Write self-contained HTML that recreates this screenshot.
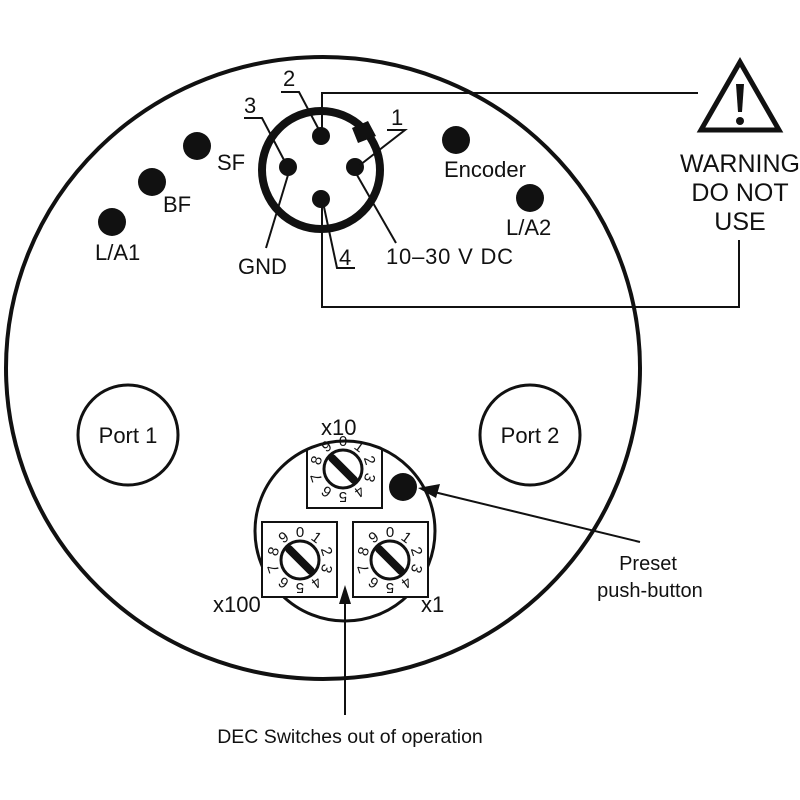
<!DOCTYPE html>
<html><head><meta charset="utf-8"><style>
html,body{margin:0;padding:0;background:#fff;}
svg{display:block;}
text{font-family:"Liberation Sans",sans-serif;fill:#111;}
</style></head><body>
<svg width="800" height="800" viewBox="0 0 800 800" xmlns="http://www.w3.org/2000/svg">
<defs>
<g id="dial">
  <circle cx="0" cy="0" r="19" fill="#fff" stroke="#111" stroke-width="3"/>
  <line x1="-11" y1="-11" x2="11" y2="11" stroke="#111" stroke-width="8" stroke-linecap="round"/>
  <g font-size="15" text-anchor="middle">
    <text transform="rotate(0) translate(0,-23)">0</text>
    <text transform="rotate(36) translate(0,-23)">1</text>
    <text transform="rotate(72) translate(0,-23)">2</text>
    <text transform="rotate(108) translate(0,-23)">3</text>
    <text transform="rotate(144) translate(0,-23)">4</text>
    <text transform="rotate(180) translate(0,-23)">5</text>
    <text transform="rotate(216) translate(0,-23)">6</text>
    <text transform="rotate(252) translate(0,-23)">7</text>
    <text transform="rotate(288) translate(0,-23)">8</text>
    <text transform="rotate(324) translate(0,-23)">9</text>
  </g>
</g>
<clipPath id="sc"><circle cx="345" cy="531" r="90"/></clipPath>
</defs>
<rect width="800" height="800" fill="#fff"/>
<ellipse cx="323" cy="368" rx="317" ry="311" fill="none" stroke="#111" stroke-width="4"/>

<polyline points="322,136 322,93 698,93" fill="none" stroke="#111" stroke-width="2"/>
<polyline points="322,200 322,307 739,307 739,240" fill="none" stroke="#111" stroke-width="2"/>

<polygon points="740,62 701,130 779,130" fill="none" stroke="#111" stroke-width="5"/>
<path d="M736,84 L744,84 L742,112 L738,112 Z" fill="#111"/>
<circle cx="740" cy="121" r="4" fill="#111"/>
<g font-size="25" text-anchor="middle">
<text x="740" y="172">WARNING</text>
<text x="740" y="201">DO NOT</text>
<text x="740" y="230">USE</text>
</g>

<circle cx="112" cy="222" r="14" fill="#111"/>
<circle cx="152" cy="182" r="14" fill="#111"/>
<circle cx="197" cy="146" r="14" fill="#111"/>
<circle cx="456" cy="140" r="14" fill="#111"/>
<circle cx="530" cy="198" r="14" fill="#111"/>
<g font-size="22">
<text x="95" y="260">L/A1</text>
<text x="163" y="212">BF</text>
<text x="217" y="170">SF</text>
<text x="444" y="177">Encoder</text>
<text x="506" y="235">L/A2</text>
<text x="386" y="264" textLength="127">10–30 V DC</text>
<text x="238" y="274">GND</text>
<text x="283" y="86">2</text>
<text x="244" y="113">3</text>
<text x="391" y="125">1</text>
<text x="339" y="265">4</text>
</g>

<circle cx="321" cy="170" r="59" fill="none" stroke="#111" stroke-width="8"/>
<polygon points="352,128 368,121 376,136 358,143" fill="#111"/>
<circle cx="321" cy="136" r="9" fill="#111"/>
<circle cx="288" cy="167" r="9" fill="#111"/>
<circle cx="355" cy="167" r="9" fill="#111"/>
<circle cx="321" cy="199" r="9" fill="#111"/>
<g stroke="#111" stroke-width="2" fill="none">
<polyline points="281,92 299,92 318,128"/>
<polyline points="244,118 262,118 284,160"/>
<polyline points="387,130 405,130 360,165"/>
<polyline points="288,175 266,248"/>
<polyline points="357,175 396,243"/>
<polyline points="324,207 337,268 355,268"/>
</g>

<circle cx="128" cy="435" r="50" fill="none" stroke="#111" stroke-width="3"/>
<circle cx="530" cy="435" r="50" fill="none" stroke="#111" stroke-width="3"/>
<text x="128" y="443" font-size="22" text-anchor="middle">Port 1</text>
<text x="530" y="443" font-size="22" text-anchor="middle">Port 2</text>

<g clip-path="url(#sc)">
<rect x="307" y="420" width="75" height="88" fill="#fff" stroke="#111" stroke-width="2"/>
</g>
<circle cx="345" cy="531" r="90" fill="none" stroke="#111" stroke-width="3"/>
<rect x="262" y="522" width="75" height="75" fill="#fff" stroke="#111" stroke-width="2"/>
<rect x="353" y="522" width="75" height="75" fill="#fff" stroke="#111" stroke-width="2"/>
<use href="#dial" transform="translate(343,469)"/>
<use href="#dial" transform="translate(300,560)"/>
<use href="#dial" transform="translate(390,560)"/>
<circle cx="403" cy="487" r="14" fill="#111"/>
<g font-size="22">
<text x="321" y="435">x10</text>
<text x="213" y="612">x100</text>
<text x="421" y="612">x1</text>
</g>

<line x1="640" y1="542" x2="430" y2="491" stroke="#111" stroke-width="2"/>
<polygon points="418,488 440,484 436,498" fill="#111"/>
<line x1="345" y1="715" x2="345" y2="600" stroke="#111" stroke-width="2"/>
<polygon points="345,585 339,604 351,604" fill="#111"/>
<g font-size="20" text-anchor="middle">
<text x="648" y="570">Preset</text>
<text x="650" y="597">push-button</text>
<text x="350" y="743" font-size="19.5">DEC Switches out of operation</text>
</g>
</svg>
</body></html>
